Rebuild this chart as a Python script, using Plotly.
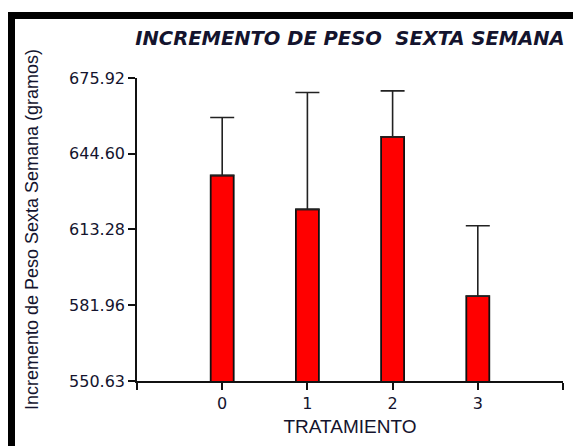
import plotly.graph_objects as go

# ---------------------------------------------------------------------------
# Datos
# ---------------------------------------------------------------------------
tratamiento = [0, 1, 2, 3]
incremento = [635.6, 621.6, 651.6, 585.7]
error_sup = [24.0, 48.3, 19.0, 29.1]

y_ticks = [550.63, 581.96, 613.28, 644.60, 675.92]
y_labels = ["550.63", "581.96", "613.28", "644.60", "675.92"]
x_ticks = [-1, 0, 1, 2, 3, 4]
x_labels = ["", "0", "1", "2", "3", ""]

TXT = "#14142e"
# la página tiene 8 px de margen en el body -> figura algo menor
W, H = 573, 438
L, R, T, B = 129, 18, 70, 63

fig = go.Figure()
fig.add_trace(go.Bar(
    x=tratamiento, y=incremento,
    width=0.27,
    marker=dict(color="#ff0000", line=dict(color="#111111", width=1.8)),
    error_y=dict(type="data", symmetric=False, array=error_sup,
                 arrayminus=[0] * len(error_sup),
                 color="#222222", thickness=1.6, width=12),
))

# marco negro exterior (coordenadas paper)
pw, ph = W - L - R, H - T - B
fig.add_shape(
    type="rect", xref="paper", yref="paper",
    x0=(3.5 - L) / pw, x1=(W + 20 - L) / pw,
    y0=(-20 - B) / ph, y1=(H - 7 - B) / ph,
    line=dict(color="black", width=7), fillcolor="rgba(0,0,0,0)",
    layer="above",
)

fig.update_layout(
    width=W, height=H,
    paper_bgcolor="white", plot_bgcolor="white",
    margin=dict(l=L, r=R, t=T, b=B),
    font=dict(family="DejaVu Sans, Arial, sans-serif", color=TXT, size=16),
    showlegend=False,
    title=dict(
        text="<b><i>INCREMENTO DE PESO  SEXTA SEMANA</i></b>",
        x=(L + pw / 2) / W, xanchor="center",
        y=1 - 30 / H, yanchor="middle",
        font=dict(size=19.5, color=TXT),
    ),
    xaxis=dict(
        range=[-1, 4], tickvals=x_ticks, ticktext=x_labels,
        showline=True, linecolor="#111111", linewidth=1.5,
        ticks="outside", ticklen=7, tickwidth=1.5, tickcolor="#111111",
        showgrid=False, zeroline=False,
        title=dict(text="TRATAMIENTO", standoff=8,
                   font=dict(size=19, family="Liberation Sans, Arial, sans-serif")),
    ),
    yaxis=dict(
        range=[550.63, 675.92], tickvals=y_ticks, ticktext=y_labels,
        showline=True, linecolor="#111111", linewidth=1.5,
        ticks="outside", ticklen=7, tickwidth=1.5, tickcolor="#111111",
        showgrid=False, zeroline=False,
        title=dict(text="Incremento de Peso Sexta Semana (gramos)", standoff=26,
                   font=dict(size=18, family="Liberation Sans, Arial, sans-serif")),
    ),
)

fig.write_html("out.html")
